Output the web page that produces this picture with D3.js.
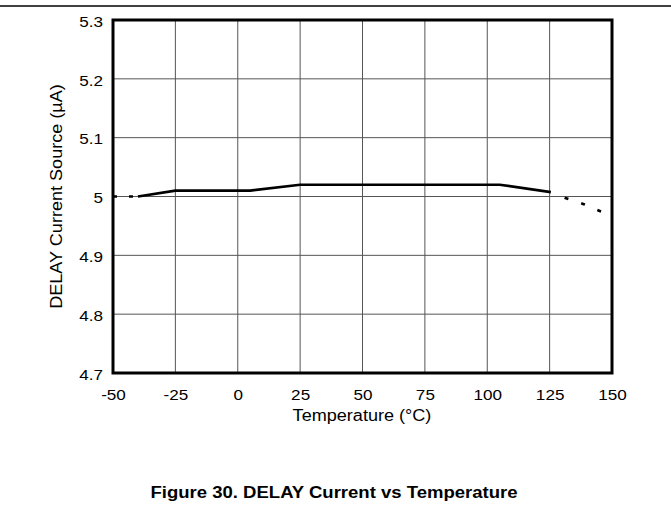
<!DOCTYPE html>
<html><head><meta charset="utf-8">
<script src="https://cdn.jsdelivr.net/npm/d3@7"></script>
<style>body{margin:0;background:#fff}svg{display:block}text{font-family:"Liberation Sans",Arial,sans-serif;fill:#000}</style>
</head><body><svg id="c" width="671" height="508"></svg>
<script>
const xTicks = [-50,-25,0,25,50,75,100,125,150];
const xTickLabels = ["-50","-25","0","25","50","75","100","125","150"];
const yTicks = [4.7,4.8,4.9,5.0,5.1,5.2,5.3];
const yTickLabels = ["4.7","4.8","4.9","5","5.1","5.2","5.3"];
const solidTemp = [-40,-25,5,25,105,125.5];
const solidVal  = [5.0,5.01,5.01,5.02,5.02,5.0075];
const dotTempL = [-50,-40];
const dotValL  = [5.0,5.0];
const dotTempR = [131,138.7,145.3,148];
const dotValR  = [4.998,4.987,4.975,4.972];
const xTitle = "Temperature (°C)";
const yTitle = "DELAY Current Source (µA)";
const caption = "Figure 30. DELAY Current vs Temperature";

const svg = d3.select("#c");
const L=113,R=612,T=20,B=373;
const x = d3.scaleLinear().domain([-50,150]).range([L,R]);
const y = d3.scaleLinear().domain([4.7,5.3]).range([B,T]);

function stretch(sel, sx){
  sel.each(function(){
    const t=d3.select(this);
    const tx=+t.attr("x")||0, ty=+t.attr("y")||0;
    t.attr("x",0).attr("y",0).attr("transform",`translate(${tx},${ty}) scale(${sx},1)`);
  });
}

svg.append("line").attr("x1",0).attr("x2",671).attr("y1",6).attr("y2",6).attr("stroke","#000").attr("stroke-width",1.5);

const g = svg.append("g");
g.selectAll(".vx").data(xTicks.slice(1,-1)).enter().append("line")
  .attr("x1",d=>x(d)).attr("x2",d=>x(d)).attr("y1",T).attr("y2",B).attr("stroke","#555").attr("stroke-width",1);
g.selectAll(".hy").data(yTicks.slice(1,-1)).enter().append("line")
  .attr("x1",L).attr("x2",R).attr("y1",d=>y(d)).attr("y2",d=>y(d)).attr("stroke","#555").attr("stroke-width",1);

const line = d3.line().x(d=>x(d[0])).y(d=>y(d[1]));
const pair=(a,b)=>a.map((v,i)=>[v,b[i]]);
g.append("path").attr("d",line(pair(solidTemp,solidVal))).attr("fill","none").attr("stroke","#000").attr("stroke-width",2.7);
g.append("path").attr("d",line(pair(dotTempL,dotValL))).attr("fill","none").attr("stroke","#000").attr("stroke-width",2.7).attr("stroke-dasharray","4,12");
g.append("path").attr("d",line(pair(dotTempR,dotValR))).attr("fill","none").attr("stroke","#000").attr("stroke-width",2.7).attr("stroke-dasharray","4,13.5");

svg.append("rect").attr("x",L).attr("y",T).attr("width",R-L).attr("height",B-T).attr("fill","none").attr("stroke","#000").attr("stroke-width",3);

const xa = svg.append("g").attr("transform",`translate(0,${B})`).call(d3.axisBottom(x).tickValues(xTicks).tickFormat((d,i)=>xTickLabels[i]).tickSize(0).tickPadding(0));
xa.select(".domain").remove();
xa.selectAll("text").attr("dy",null).attr("y",27).style("font-size","15px").attr("font-family","Liberation Sans, Arial, sans-serif");
stretch(xa.selectAll("text"),1.14);
const ya = svg.append("g").attr("transform",`translate(${L},0)`).call(d3.axisLeft(y).tickValues(yTicks).tickFormat((d,i)=>yTickLabels[i]).tickSize(0).tickPadding(0));
ya.select(".domain").remove();
ya.selectAll("text").attr("x",-10).attr("dy","0.42em").style("font-size","15px").attr("font-family","Liberation Sans, Arial, sans-serif");
stretch(ya.selectAll("text"),1.14);

svg.append("text").attr("transform","translate(362,421) scale(1.13,1)").attr("text-anchor","middle").style("font-size","16px").text(xTitle);
svg.append("text").attr("transform",`translate(62,${(T+B)/2}) rotate(-90) scale(1.13,1)`).attr("text-anchor","middle").style("font-size","16px").text(yTitle);
svg.append("text").attr("transform","translate(334,498) scale(1.09,1)").attr("text-anchor","middle").style("font-size","17px").style("font-weight","bold").text(caption);
</script></body></html>
